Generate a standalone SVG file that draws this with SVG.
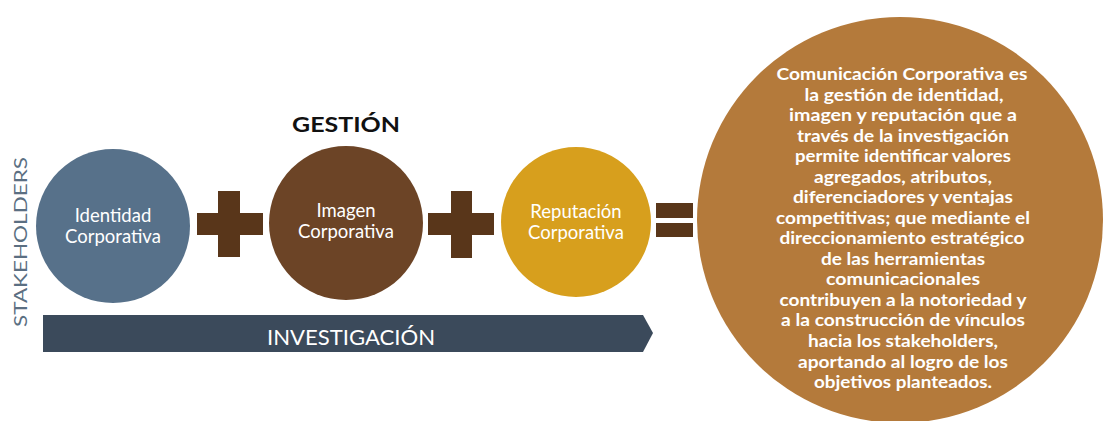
<svg xmlns="http://www.w3.org/2000/svg" width="1104" height="421" viewBox="0 0 1104 421">
<style>
.lbl{font-family:"Lato","Open Sans","Liberation Sans",sans-serif;fill:#ffffff;font-size:18.5px;text-anchor:middle}
.op{fill:#59361a}
.big{font-family:"Lato","DejaVu Sans","Liberation Sans",sans-serif;font-weight:bold;fill:#ffffff;font-size:17px;text-anchor:middle}
</style>
<rect width="1104" height="421" fill="#ffffff"/>
<g id="stakeholders">
<text transform="translate(27,242) rotate(-90)" text-anchor="middle" font-family="Lato, 'Liberation Sans', sans-serif" font-size="18" fill="#5b6f82" textLength="170" lengthAdjust="spacingAndGlyphs">STAKEHOLDERS</text>
</g>
<g id="investigacion">
<path d="M43,315 H643 L653,333 L643,352 H43 Z" fill="#3b4a5b"/>
<text x="351" y="345" text-anchor="middle" font-family="Lato, 'Liberation Sans', sans-serif" font-size="21" fill="#ffffff" textLength="168" lengthAdjust="spacingAndGlyphs">INVESTIGACIÓN</text>
</g>
<g id="gestion">
<text x="346" y="132" text-anchor="middle" font-family="Lato, 'Liberation Sans', sans-serif" font-weight="bold" font-size="20" fill="#111111" textLength="108" lengthAdjust="spacingAndGlyphs">GESTIÓN</text>
</g>
<g id="identidad">
<circle cx="113" cy="226" r="77" fill="#57718a"/>
<text class="lbl" x="113" y="222">Identidad</text>
<text class="lbl" x="113" y="243">Corporativa</text>
</g>
<g id="plus1">
<rect class="op" x="197" y="213" width="66" height="22"/>
<rect class="op" x="218" y="191" width="22" height="66"/>
</g>
<g id="imagen">
<circle cx="346" cy="223" r="77" fill="#6c4426"/>
<text class="lbl" x="346" y="217">Imagen</text>
<text class="lbl" x="346" y="238">Corporativa</text>
</g>
<g id="plus2">
<rect class="op" x="428" y="213" width="66" height="22"/>
<rect class="op" x="451" y="191" width="21" height="67"/>
</g>
<g id="reputacion">
<circle cx="576" cy="222" r="75" fill="#d79f1d"/>
<text class="lbl" x="576" y="218">Reputación</text>
<text class="lbl" x="576" y="239">Corporativa</text>
</g>
<g id="equals">
<rect class="op" x="656" y="203" width="37" height="15"/>
<rect class="op" x="656" y="223" width="37" height="14"/>
</g>
<g id="comunicacion">
<circle cx="900" cy="220" r="203" fill="#b47a3b"/>
<text class="big" x="902" y="80" textLength="251" lengthAdjust="spacingAndGlyphs">Comunicación Corporativa es</text>
<text class="big" x="904" y="100.5" textLength="199" lengthAdjust="spacingAndGlyphs">la gestión de identidad,</text>
<text class="big" x="903" y="121" textLength="228" lengthAdjust="spacingAndGlyphs">imagen y reputación que a</text>
<text class="big" x="903" y="141.6" textLength="212" lengthAdjust="spacingAndGlyphs">través de la investigación</text>
<text class="big" x="903" y="162.1" textLength="216" lengthAdjust="spacingAndGlyphs">permite identificar valores</text>
<text class="big" x="903" y="182.7" textLength="178" lengthAdjust="spacingAndGlyphs">agregados, atributos,</text>
<text class="big" x="903" y="203.2" textLength="220" lengthAdjust="spacingAndGlyphs">diferenciadores y ventajas</text>
<text class="big" x="903" y="223.7" textLength="254" lengthAdjust="spacingAndGlyphs">competitivas; que mediante el</text>
<text class="big" x="902" y="244.3" textLength="245" lengthAdjust="spacingAndGlyphs">direccionamiento estratégico</text>
<text class="big" x="903" y="264.8" textLength="164" lengthAdjust="spacingAndGlyphs">de las herramientas</text>
<text class="big" x="903" y="285.3" textLength="154" lengthAdjust="spacingAndGlyphs">comunicacionales</text>
<text class="big" x="903" y="305.9" textLength="247" lengthAdjust="spacingAndGlyphs">contribuyen a la notoriedad y</text>
<text class="big" x="903" y="326.4" textLength="244" lengthAdjust="spacingAndGlyphs">a la construcción de vínculos</text>
<text class="big" x="903" y="347" textLength="190" lengthAdjust="spacingAndGlyphs">hacia los stakeholders,</text>
<text class="big" x="903" y="367.5" textLength="210" lengthAdjust="spacingAndGlyphs">aportando al logro de los</text>
<text class="big" x="903" y="388" textLength="178" lengthAdjust="spacingAndGlyphs">objetivos planteados.</text>
</g>
</svg>
